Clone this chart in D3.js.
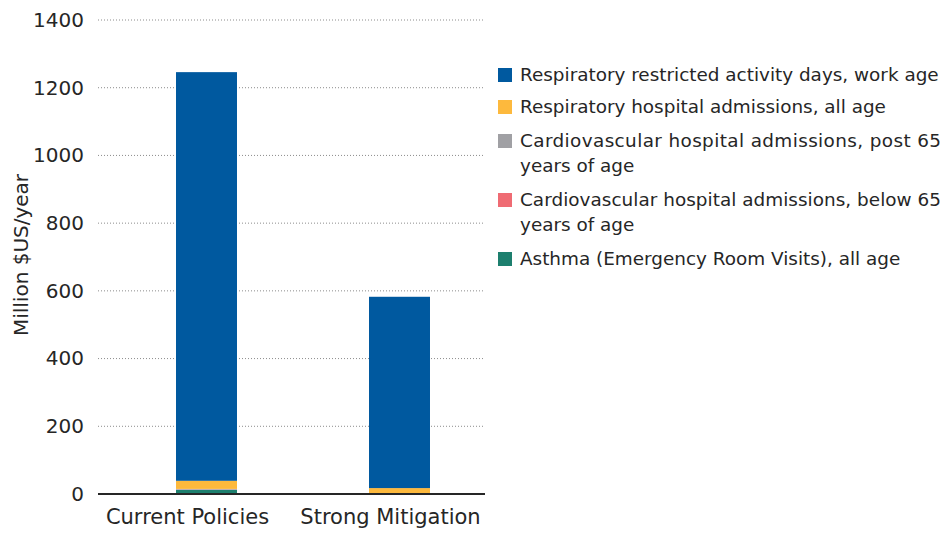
<!DOCTYPE html>
<html><head><meta charset="utf-8">
<script src="https://cdn.jsdelivr.net/npm/d3@7"></script>
<style>body{margin:0;background:#fff}text{font-family:"DejaVu Sans",Verdana,sans-serif;fill:#262626}</style>
</head><body><svg id="c" width="945" height="534"></svg>
<script>
const categories = ["Current Policies", "Strong Mitigation"];
const seriesNames = [
  "Asthma (Emergency Room Visits), all age",
  "Cardiovascular hospital admissions, below 65 years of age",
  "Cardiovascular hospital admissions, post 65 years of age",
  "Respiratory hospital admissions, all age",
  "Respiratory restricted activity days, work age"
];
const asthma = [12, 1];
const cardioBelow65 = [1, 0.5];
const cardioPost65 = [2, 1];
const respHospital = [24, 15];
const respRAD = [1207, 565];
const colors = ["#1d7f6e", "#ef6b73", "#a0a0a4", "#fdb93d", "#00599f"];
const yTicks = [0, 200, 400, 600, 800, 1000, 1200, 1400];

const svg = d3.select("#c");
const x0 = 98, x1 = 485, yTop = 20, yBot = 494;
const y = d3.scaleLinear().domain([0, 1400]).range([yBot, yTop]);
const x = d3.scaleBand().domain(categories).range([110, 496]).paddingInner(0.684).paddingOuter(0.342);
const xLabel = d3.scaleBand().domain(categories).range([86, 492]);

// gridlines
svg.append("g").selectAll("line").data(yTicks.filter(d => d > 0)).join("line")
  .attr("x1", x0).attr("x2", x1).attr("y1", d => y(d)).attr("y2", d => y(d))
  .attr("stroke", "#8c8c8c").attr("stroke-width", 1).attr("stroke-dasharray", "1,2");

// y axis labels
const yAxis = d3.axisLeft(y).tickValues(yTicks).tickFormat(d3.format("d")).tickSize(0).tickPadding(14);
const ga = svg.append("g").attr("transform", `translate(${x0},0)`).call(yAxis);
ga.select(".domain").remove();
ga.selectAll("text").style("font-size", "20px").style("font-family", "DejaVu Sans").attr("fill", "#262626");

// stack
const table = categories.map((c, i) => ({cat: c, s0: asthma[i], s1: cardioBelow65[i], s2: cardioPost65[i], s3: respHospital[i], s4: respRAD[i]}));
const stack = d3.stack().keys(["s0", "s1", "s2", "s3", "s4"])(table);
svg.append("g").selectAll("g").data(stack).join("g").attr("fill", (d, i) => colors[i])
  .selectAll("rect").data(d => d).join("rect")
  .attr("x", d => x(d.data.cat)).attr("width", x.bandwidth())
  .attr("y", d => y(d[1])).attr("height", d => y(d[0]) - y(d[1]));

// baseline
svg.append("line").attr("x1", x0).attr("x2", x1).attr("y1", yBot).attr("y2", yBot)
  .attr("stroke", "#262626").attr("stroke-width", 2);

// x labels
const gx = svg.append("g").attr("transform", `translate(0,${yBot})`).call(d3.axisBottom(xLabel).tickSize(0).tickPadding(15));
gx.select(".domain").remove();
gx.selectAll("text").style("font-size", "21px").style("font-family", "DejaVu Sans").attr("fill", "#262626");

// y title
svg.append("text").attr("transform", "translate(28,255) rotate(-90)").attr("text-anchor", "middle")
  .style("font-size", "20px").text("Million $US/year");

// legend
const legend = [
  {i: 4, lines: ["Respiratory restricted activity days, work age"], y: 75, just: false},
  {i: 3, lines: ["Respiratory hospital admissions, all age"], y: 107, just: false},
  {i: 2, lines: ["Cardiovascular hospital admissions, post 65", "years of age"], y: 141, just: true},
  {i: 1, lines: ["Cardiovascular hospital admissions, below 65", "years of age"], y: 200, just: true},
  {i: 0, lines: ["Asthma (Emergency Room Visits), all age"], y: 259, just: false}
];
const lg = svg.append("g");
legend.forEach(l => {
  lg.append("rect").attr("x", 498).attr("y", l.y - 7).attr("width", 14).attr("height", 14).attr("fill", colors[l.i]);
  l.lines.forEach((t, k) => {
    const tx = lg.append("text").attr("x", 520).attr("y", l.y + k * 25).attr("dy", "0.35em")
      .style("font-size", "18.4px").text(t);
    if (l.just && k === 0) tx.attr("textLength", 421).attr("lengthAdjust", "spacing");
  });
});
</script></body></html>
